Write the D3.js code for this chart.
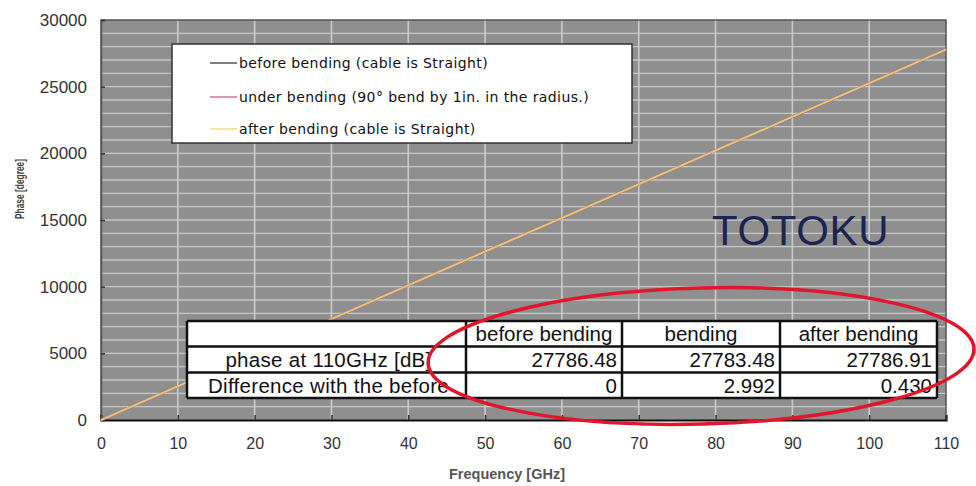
<!DOCTYPE html>
<html>
<head>
<meta charset="utf-8">
<script src="https://cdn.jsdelivr.net/npm/d3@7/dist/d3.min.js"></script>
<style>
  html, body { margin: 0; padding: 0; background: #fff; }
  svg { display: block; }
</style>
</head>
<body>
<svg id="chart" width="976" height="486"></svg>
<script>
// Frequency sweep points (GHz)
const frequency = [0, 10, 20, 30, 40, 50, 60, 70, 80, 90, 100, 110];

// Measured phase (degrees) for the three cable states
const phaseBefore = [0, 2526, 5052, 7578, 10104, 12630, 15156, 17682, 20208, 22734, 25260, 27786.48];
const phaseUnder  = [0, 2526, 5051, 7577, 10103, 12629, 15154, 17680, 20206, 22731, 25257, 27783.48];
const phaseAfter  = [0, 2526, 5052, 7578, 10104, 12630, 15156, 17682, 20209, 22735, 25261, 27786.91];

const seriesNames = [
  "before bending (cable is Straight)",
  "under bending (90°  bend by 1in. in the radius.)",
  "after bending (cable is Straight)"
];

const xTicks = [0, 10, 20, 30, 40, 50, 60, 70, 80, 90, 100, 110];
const yTicks = [0, 5000, 10000, 15000, 20000, 25000, 30000];
const yMinorGrid = d3.range(1000, 30000, 1000);

// Summary table
const tableHeader = ["", "before bending", "bending", "after bending"];
const rowLabels = ["phase at 110GHz [dB]", "Difference with the before"];
const phaseAt110 = [27786.48, 27783.48, 27786.91];
const differenceLabels = ["0", "2.992", "0.430"];

const svg = d3.select("#chart");
const plot = { left: 101, right: 946, top: 20, bottom: 420 };

const x = d3.scaleLinear().domain([0, 110]).range([plot.left, plot.right]);
const y = d3.scaleLinear().domain([0, 30000]).range([plot.bottom, plot.top]);

// Plot background
svg.append("rect")
  .attr("x", plot.left).attr("y", plot.top)
  .attr("width", plot.right - plot.left).attr("height", plot.bottom - plot.top)
  .attr("fill", "#8f8f8f");

// Grid lines
svg.append("g").selectAll("line").data(yMinorGrid).join("line")
  .attr("x1", plot.left).attr("x2", plot.right)
  .attr("y1", d => y(d)).attr("y2", d => y(d))
  .attr("stroke", "#c6c6c6").attr("stroke-width", 1.4);
svg.append("g").selectAll("line").data(xTicks.filter(d => d > 0 && d < 110)).join("line")
  .attr("x1", d => x(d)).attr("x2", d => x(d))
  .attr("y1", plot.top).attr("y2", plot.bottom)
  .attr("stroke", "#cbcbcb").attr("stroke-width", 1.6);

// Frame
svg.append("path")
  .attr("d", `M${plot.left},${plot.bottom}V${plot.top}H${plot.right}V${plot.bottom}`)
  .attr("fill", "none").attr("stroke", "#555").attr("stroke-width", 1.5);

// Axes (ticks drawn inward, labels outside)
const xAxis = svg.append("g").attr("transform", `translate(0,${plot.bottom})`)
  .call(d3.axisBottom(x).tickValues(xTicks).tickSize(-5).tickPadding(18).tickFormat(d3.format("d")));
xAxis.select(".domain").attr("stroke", "#111").attr("stroke-width", 2.2);
xAxis.selectAll(".tick line").attr("stroke", "#333").attr("stroke-width", 1.5);
xAxis.selectAll(".tick text")
  .attr("font-family", "Arial, 'Liberation Sans', sans-serif").attr("font-size", 16).attr("fill", "#333");

const yAxis = svg.append("g").attr("transform", `translate(${plot.left},0)`)
  .call(d3.axisLeft(y).tickValues(yTicks).tickSize(-4).tickPadding(14).tickFormat(d3.format("d")));
yAxis.select(".domain").attr("stroke", "#555").attr("stroke-width", 1.5);
yAxis.selectAll(".tick line").attr("stroke", "#333").attr("stroke-width", 1.5);
yAxis.selectAll(".tick text")
  .attr("font-family", "Arial, 'Liberation Sans', sans-serif").attr("font-size", 17).attr("fill", "#333");

// Axis titles
svg.append("text")
  .attr("x", 507).attr("y", 479)
  .attr("text-anchor", "middle")
  .attr("font-family", "Arial, 'Liberation Sans', sans-serif")
  .attr("font-size", 14.5).attr("font-weight", "bold").attr("fill", "#555")
  .text("Frequency [GHz]");
svg.append("text")
  .attr("transform", "translate(24,189) rotate(-90)")
  .attr("text-anchor", "middle")
  .attr("font-family", "Arial, 'Liberation Sans', sans-serif")
  .attr("font-size", 13.5).attr("font-weight", "bold").attr("fill", "#444")
  .attr("textLength", 60).attr("lengthAdjust", "spacingAndGlyphs")
  .text("Phase [degree]");

// Phase lines
const seriesColors = ["#4a4a4a", "#d94a6a", "#e4c47c"];
const series = [phaseBefore, phaseUnder, phaseAfter];
const line = d3.line().x((d, i) => x(frequency[i])).y(d => y(d));
svg.append("g").selectAll("path").data(series).join("path")
  .attr("d", d => line(d))
  .attr("fill", "none")
  .attr("stroke", (d, i) => seriesColors[i])
  .attr("stroke-width", 2.2);

// Legend
const legend = svg.append("g");
legend.append("rect")
  .attr("x", 172).attr("y", 44).attr("width", 460).attr("height", 99)
  .attr("fill", "#fff").attr("stroke", "#333").attr("stroke-width", 1.5);
const legendRows = [63, 97, 129];
const legendColors = ["#555", "#e07088", "#ece07a"];
seriesNames.forEach((name, i) => {
  legend.append("line")
    .attr("x1", 210).attr("x2", 237)
    .attr("y1", legendRows[i]).attr("y2", legendRows[i])
    .attr("stroke", legendColors[i]).attr("stroke-width", 1.5);
  legend.append("text")
    .attr("x", 239).attr("y", legendRows[i] + 5)
    .attr("font-family", "'DejaVu Sans', Verdana, sans-serif")
    .attr("font-size", 14).attr("letter-spacing", 0.4).attr("fill", "#111")
    .text(name);
});

// Brand mark
svg.append("text")
  .attr("x", 712).attr("y", 245)
  .attr("font-family", "Arial, 'Liberation Sans', sans-serif")
  .attr("font-size", 42).attr("letter-spacing", 0.6).attr("fill", "#1d2452")
  .text("TOTOKU");

// Table
const colEdges = [187, 466, 622, 780, 937];
const rowEdges = [321, 346.5, 372.5, 398];
const table = svg.append("g");
const tableFont = "Arial, 'Liberation Sans', sans-serif";
table.append("rect")
  .attr("x", colEdges[0]).attr("y", rowEdges[0])
  .attr("width", colEdges[4] - colEdges[0]).attr("height", rowEdges[3] - rowEdges[0])
  .attr("fill", "#fff");

const defs = svg.append("defs");
defs.append("clipPath").attr("id", "labelClip")
  .append("rect").attr("x", colEdges[0]).attr("y", rowEdges[0])
  .attr("width", colEdges[1] - colEdges[0] - 3).attr("height", rowEdges[3] - rowEdges[0]);

// header row
tableHeader.forEach((h, c) => {
  if (!h) return;
  table.append("text")
    .attr("x", (colEdges[c] + colEdges[c + 1]) / 2).attr("y", rowEdges[1] - 5.5)
    .attr("text-anchor", "middle")
    .attr("font-family", tableFont).attr("font-size", 20.5).attr("fill", "#111")
    .text(h);
});
// row labels
const labelGroup = table.append("g").attr("clip-path", "url(#labelClip)");
rowLabels.forEach((lab, r) => {
  labelGroup.append("text")
    .attr("x", (colEdges[0] + colEdges[1]) / 2 + 2).attr("y", rowEdges[r + 2] - 5.5)
    .attr("text-anchor", "middle")
    .attr("font-family", tableFont).attr("font-size", 20.5).attr("letter-spacing", 0.3).attr("fill", "#111")
    .text(lab);
});
// values
phaseAt110.forEach((v, c) => {
  table.append("text")
    .attr("x", colEdges[c + 2] - 5).attr("y", rowEdges[2] - 5.5)
    .attr("text-anchor", "end")
    .attr("font-family", tableFont).attr("font-size", 20.5).attr("fill", "#111")
    .text(d3.format(".2f")(v));
});
differenceLabels.forEach((v, c) => {
  table.append("text")
    .attr("x", colEdges[c + 2] - 5).attr("y", rowEdges[3] - 5.5)
    .attr("text-anchor", "end")
    .attr("font-family", tableFont).attr("font-size", 20.5).attr("fill", "#111")
    .text(v);
});
// grid of the table
table.selectAll("line.h").data(rowEdges).join("line")
  .attr("x1", colEdges[0]).attr("x2", colEdges[4])
  .attr("y1", d => d).attr("y2", d => d)
  .attr("stroke", "#111").attr("stroke-width", 2.5);
table.selectAll("line.v").data(colEdges).join("line")
  .attr("x1", d => d).attr("x2", d => d)
  .attr("y1", rowEdges[0]).attr("y2", rowEdges[3])
  .attr("stroke", "#111").attr("stroke-width", 2.5);

// Highlight ellipse around the comparison values
svg.append("ellipse")
  .attr("cx", 701).attr("cy", 356).attr("rx", 273).attr("ry", 68)
  .attr("transform", "rotate(-1.5 701 356)")
  .attr("fill", "none").attr("stroke", "#e0162c").attr("stroke-width", 3.5);
</script>
</body>
</html>
